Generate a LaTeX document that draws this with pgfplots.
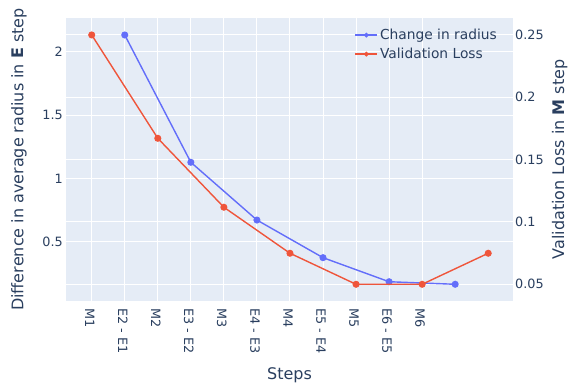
\documentclass[border=0pt]{standalone}
\usepackage{pgfplots}
\pgfplotsset{compat=1.18}
\usepackage{fontspec}
\setmainfont{DejaVu Sans}
\definecolor{bgc}{HTML}{E5ECF6}
\definecolor{txt}{HTML}{2A3F5F}
\definecolor{pblue}{HTML}{636EFA}
\definecolor{pred}{HTML}{EF553B}
\pgfplotsset{
  common/.style={
    at={(66pt,87pt)}, anchor=south west,
    width=447pt, height=283pt, scale only axis,
    xmin=-0.778, xmax=12.75,
    /pgf/number format/assume math mode=true,
    tick label style={font=\fontsize{12.8}{15}\selectfont, text=txt},
    label style={font=\fontsize{16}{19}\selectfont, text=txt},
    axis line style={draw=none},
    major tick length=0pt,
  },
  leftscale/.style={ymin=0.034, ymax=2.268},
  rightscale/.style={ymin=0.0366, ymax=0.2636},
}
\begin{document}
\begin{tikzpicture}
\path[use as bounding box] (0,0) rectangle (568pt,388pt);
% background + left grid + x ticks
\begin{axis}[common, leftscale,
  axis background/.style={fill=bgc},
  xtick={0,...,10},
  xticklabels={M1,E2 - E1,M2,E3 - E2,M3,E4 - E3,M4,E5 - E4,M5,E6 - E5,M6},
  x tick label style={xshift=-2pt, yshift=-7.5pt, rotate=-90, anchor=west, inner sep=0pt},
  ytick={0.5,1,1.5,2},
  yticklabels={0.5,1,1.5,2},
  y tick label style={inner sep=0pt, xshift=-3pt, anchor=east},
  grid=major, grid style={white, line width=1pt},
  xlabel={Steps},
  xlabel style={at={([yshift=-79pt]axis description cs:0.5,0)}, anchor=base},
  ylabel={Difference in average radius in \textbf{E} step},
  ylabel style={at={([xshift=-42.7pt]axis description cs:0,0.5)}, anchor=base, rotate=0},
]
\end{axis}
% right grid + right ticks
\begin{axis}[common, rightscale,
  axis x line=none,
  axis y line*=right,
  ytick={0.05,0.1,0.15,0.2,0.25},
  yticklabels={0.05,0.1,0.15,0.2,0.25},
  y tick label style={inner sep=0pt, xshift=2pt, anchor=west},
  ymajorgrids, grid style={white, line width=1pt},
  ylabel={Validation Loss in \textbf{M} step},
  ylabel style={at={([xshift=51pt]axis description cs:1,0.5)}, anchor=base, rotate=0},
]
\end{axis}
% blue series (left scale)
\begin{axis}[common, leftscale, hide axis]
\addplot[pblue, line width=1.4pt, mark=*, mark size=2.8pt, mark options={solid}]
  coordinates {(1,2.134) (3,1.129) (5,0.673) (7,0.376) (9,0.186) (11,0.166)};
\end{axis}
% red series (right scale) + legend
\begin{axis}[common, rightscale, hide axis,
  legend style={at={(axis description cs:0.643,0.972)}, anchor=north west,
    draw=none, fill=none, font=\fontsize{13.8}{16.5}\selectfont, text=txt,
    nodes={font=\fontsize{13.8}{16.5}\selectfont, text=txt, inner sep=2pt},
    row sep=3pt, inner sep=1pt},
  legend cell align=left,
  legend image code/.code={%
    \draw[mark repeat=2,mark phase=2,#1] plot coordinates {(0pt,0pt) (11pt,0pt) (22pt,0pt)};},
]
\addlegendimage{pblue, line width=1.4pt, mark=*, mark size=1.6pt}
\addlegendentry{Change in radius}
\addlegendimage{pred, line width=1.4pt, mark=*, mark size=1.6pt}
\addlegendentry{Validation Loss}
\addplot[pred, line width=1.4pt, mark=*, mark size=2.8pt, mark options={solid}, forget plot]
  coordinates {(0,0.25) (2,0.1671) (4,0.1118) (6,0.0749) (8,0.05) (10,0.05) (12,0.0749)};
\end{axis}
\end{tikzpicture}
\end{document}
